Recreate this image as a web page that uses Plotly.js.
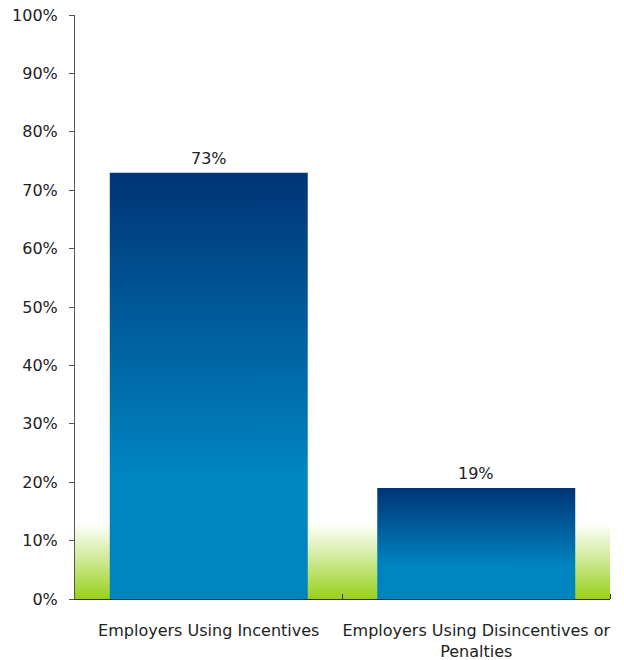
<!DOCTYPE html>
<html>
<head>
<meta charset="utf-8">
<script src="https://cdn.plot.ly/plotly-3.0.1.min.js"></script>
<style>html,body{margin:0;padding:0;background:#fff;}#chart{width:624px;height:660px;}</style>
</head>
<body>
<div id="chart"></div>
<script>
// ---- data ----
var categories = ["Employers Using Incentives", "Employers Using Disincentives or<br>Penalties"];
var values = [73, 19];
var valueLabels = ["73%", "19%"];
var yTickVals = [0, 10, 20, 30, 40, 50, 60, 70, 80, 90, 100];
var yTickText = ["0%", "10%", "20%", "30%", "40%", "50%", "60%", "70%", "80%", "90%", "100%"];
var bandTop = 13; // height of green background band (in % units)

// ---- styling ----
var barWidth = 0.74;
var font = "DejaVu Sans, Verdana, sans-serif";
var xs = categories.map(function (c, i) { return i; });

var traces = [];
// green background band
traces.push({
  type: "scatter", mode: "lines", hoverinfo: "skip", showlegend: false,
  x: [-0.5, 1.5, 1.5, -0.5, -0.5],
  y: [0, 0, bandTop, bandTop, 0],
  fill: "toself", line: {width: 0, color: "rgba(0,0,0,0)"},
  fillcolor: "#c8e680",
  fillgradient: {type: "vertical", colorscale: [[0, "#98d01a"], [0.5, "#cde990"], [1, "#ffffff"]]}
});
// bars with gradient fill
values.forEach(function (v, i) {
  var x0 = xs[i] - barWidth / 2, x1 = xs[i] + barWidth / 2;
  traces.push({
    type: "scatter", mode: "lines", showlegend: false, hoverinfo: "skip",
    x: [x0, x1, x1, x0, x0],
    y: [0, 0, v, v, 0],
    fill: "toself", line: {width: 0, color: "rgba(0,0,0,0)"},
    fillcolor: "#0060a0",
    fillgradient: {type: "vertical", colorscale: [[0, "#0084c0"], [0.3, "#0084c0"], [1, "#003476"]]}
  });
});

// value labels as annotations
var annotations = values.map(function (v, i) {
  return {
    x: xs[i], y: v, xref: "x", yref: "y", text: valueLabels[i],
    showarrow: false, xanchor: "center", yanchor: "bottom", yshift: 3,
    font: {family: font, size: 16, color: "#222"}
  };
});

var layout = {
  width: 624, height: 660,
  margin: {l: 75, r: 14, t: 15, b: 61},
  paper_bgcolor: "#ffffff", plot_bgcolor: "#ffffff",
  showlegend: false,
  font: {family: font, size: 16, color: "#222"},
  annotations: annotations,
  xaxis: {
    type: "linear", range: [-0.5, 1.5], fixedrange: true,
    tickmode: "array", tickvals: xs, ticktext: categories,
    ticks: "", showgrid: false, zeroline: false,
    showline: true, linecolor: "#333", linewidth: 1,
    tickfont: {family: font, size: 16, color: "#222"},
    ticklabelstandoff: 17,
    minor: {tickmode: "array", tickvals: [0.5, 1.5], ticks: "inside", ticklen: 5, tickcolor: "#333", showgrid: false}
  },
  yaxis: {
    range: [0, 100], fixedrange: true,
    tickmode: "array", tickvals: yTickVals, ticktext: yTickText,
    ticks: "outside", ticklen: 5, tickcolor: "#555",
    showgrid: false, zeroline: false,
    showline: true, linecolor: "#555", linewidth: 1,
    tickfont: {family: font, size: 16, color: "#222"},
    ticklabelstandoff: 8
  }
};

Plotly.newPlot("chart", traces, layout, {displayModeBar: false, staticPlot: true});
</script>
</body>
</html>
